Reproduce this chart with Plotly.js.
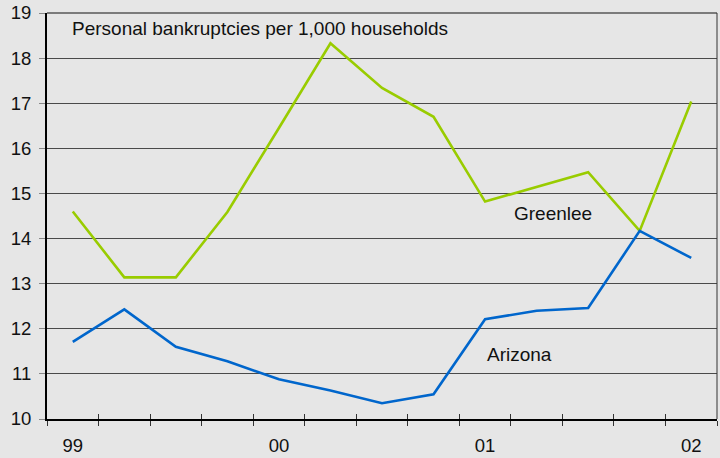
<!DOCTYPE html>
<html>
<head>
<meta charset="utf-8">
<script src="https://cdn.plot.ly/plotly-3.0.1.min.js"></script>
<style>
html,body{margin:0;padding:0;background:#e6e6e6;}
#chart{width:720px;height:458px;}
</style>
</head>
<body>
<div id="chart"></div>
<script>
// Quarterly data, 1999 Q1 .. 2002 Q1
var quarterIndex = [0,1,2,3,4,5,6,7,8,9,10,11,12];
var greenlee = [14.60, 13.14, 13.14, 14.59, 16.45, 18.33, 17.34, 16.70, 14.82, 15.14, 15.47, 14.17, 17.04];
var arizona  = [11.71, 12.43, 11.60, 11.28, 10.88, 10.63, 10.35, 10.55, 12.21, 12.40, 12.46, 14.17, 13.57];
var yearLabels = ['99','00','01','02'];
var yearLabelPos = [0.5, 4.5, 8.5, 12.5];
var quarterTicks = [0,1,2,3,4,5,6,7,8,9,10,11,12,13];
var yTicks = [10,11,12,13,14,15,16,17,18,19];

var xs = quarterIndex.map(function(q){ return q + 0.5; });
var FONT = 'Liberation Sans, Arial, Helvetica, sans-serif';

var traces = [
  {x: xs, y: greenlee, type:'scatter', mode:'lines', name:'Greenlee',
   line:{color:'#99cc00', width:2.6}, hoverinfo:'skip'},
  {x: xs, y: arizona, type:'scatter', mode:'lines', name:'Arizona',
   line:{color:'#0066cc', width:2.6}, hoverinfo:'skip'},
  {x: [quarterTicks[0]], y: [yTicks[0]], xaxis:'x2', type:'scatter', mode:'markers',
   marker:{opacity:0}, showlegend:false, hoverinfo:'skip'}
];

var layout = {
  width:720, height:458,
  paper_bgcolor:'#e6e6e6', plot_bgcolor:'#e6e6e6',
  margin:{l:47, r:3, t:13, b:39},
  showlegend:false,
  font:{family:FONT, color:'#111', size:18},
  xaxis:{
    range:[0,13], tickmode:'array', tickvals:yearLabelPos, ticktext:yearLabels,
    ticks:'', showgrid:false, zeroline:false,
    showline:true, linecolor:'#000', linewidth:2,
    tickfont:{family:FONT, size:18.5, color:'#111'}, ticklabelstandoff:9,
    minor:{tickmode:'array', tickvals:quarterTicks, ticks:'outside', ticklen:5, tickwidth:1, tickcolor:'#333', showgrid:false}
  },
  xaxis2:{
    overlaying:'x', range:[0,13], tickmode:'array', tickvals:quarterTicks,
    ticks:'inside', ticklen:5, tickwidth:1, tickcolor:'#333',
    showticklabels:false, showgrid:false, zeroline:false, showline:false
  },
  yaxis:{
    range:[10,19], tickmode:'array', tickvals:yTicks,
    ticks:'outside', ticklen:6, tickwidth:1, tickcolor:'#888',
    showgrid:true, gridcolor:'#4a4a4a', gridwidth:1, zeroline:false,
    showline:true, linecolor:'#000', linewidth:2,
    tickfont:{family:FONT, size:18.5, color:'#111'}, ticklabelstandoff:4
  },
  shapes:[
    {type:'line', xref:'paper', yref:'paper', x0:0, x1:1, y0:1, y1:1, line:{color:'#111', width:1.2}},
    {type:'line', xref:'paper', yref:'paper', x0:1, x1:1, y0:0, y1:1, line:{color:'#333', width:1}}
  ],
  annotations:[
    {text:'Personal bankruptcies per 1,000 households', x:0.5, y:18.65, xref:'x', yref:'y', xshift:-3,
     xanchor:'left', yanchor:'middle', showarrow:false, font:{family:FONT, size:19, color:'#111'}},
    {text:'Greenlee', x:9.82, y:14.56, xref:'x', yref:'y', xanchor:'center', yanchor:'middle',
     showarrow:false, font:{family:FONT, size:19, color:'#111'}},
    {text:'Arizona', x:9.17, y:11.44, xref:'x', yref:'y', xanchor:'center', yanchor:'middle',
     showarrow:false, font:{family:FONT, size:19, color:'#111'}}
  ]
};

Plotly.newPlot('chart', traces, layout, {staticPlot:true, displayModeBar:false});
</script>
</body>
</html>
